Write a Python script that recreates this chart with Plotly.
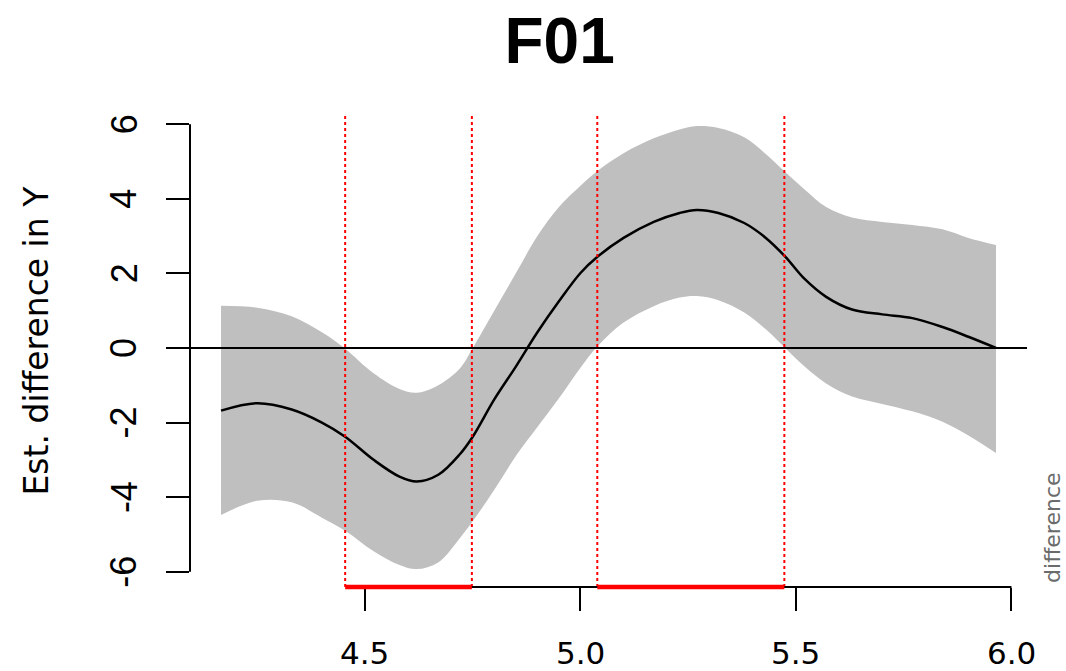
import plotly.graph_objects as go

# ---- data ----
x_vals = [4.166, 4.25, 4.33, 4.40, 4.454, 4.52, 4.58, 4.62, 4.67, 4.72, 4.75, 4.80, 4.85,
          4.90, 4.95, 5.00, 5.04, 5.10, 5.17, 5.23, 5.27, 5.32, 5.38, 5.43, 5.475, 5.52,
          5.57, 5.63, 5.70, 5.77, 5.84, 5.90, 5.964]
est_diff = [-1.68, -1.48, -1.65, -2.0, -2.38, -3.0, -3.45, -3.58, -3.40, -2.85, -2.38, -1.38,
            -0.5, 0.42, 1.25, 2.01, 2.45, 2.95, 3.38, 3.62, 3.70, 3.62, 3.35, 2.95, 2.45,
            1.85, 1.37, 1.03, 0.90, 0.80, 0.56, 0.30, 0.0]
ci_upper = [1.13, 1.08, 0.85, 0.42, -0.02, -0.68, -1.1, -1.2, -1.0, -0.55, 0.0, 1.0, 2.0,
            3.0, 3.78, 4.35, 4.75, 5.22, 5.62, 5.86, 5.95, 5.9, 5.65, 5.2, 4.72, 4.25, 3.78,
            3.5, 3.38, 3.3, 3.18, 2.95, 2.76]
ci_lower = [-4.48, -4.1, -4.14, -4.55, -4.9, -5.45, -5.82, -5.93, -5.75, -5.1, -4.65, -3.8,
            -2.9, -2.12, -1.35, -0.53, 0.05, 0.68, 1.12, 1.35, 1.39, 1.28, 0.95, 0.5, 0.0,
            -0.5, -0.95, -1.3, -1.5, -1.7, -1.98, -2.35, -2.82]
sig_starts = [4.454, 5.039]
sig_ends = [4.748, 5.473]
x_ticks = [4.5, 5.0, 5.5, 6.0]
x_tick_labels = ["4.5", "5.0", "5.5", "6.0"]
y_ticks = [-6, -4, -2, 0, 2, 4, 6]
y_tick_labels = ["-6", "-4", "-2", "0", "2", "4", "6"]
title_text = "F01"
y_title = "Est. difference in Y"
side_text = "difference"

X_RANGE = [4.094, 6.036]
Y_RANGE = [-6.41, 6.30]
FONT = "DejaVu Sans, Liberation Sans, Arial, sans-serif"
FONT_ARIAL = "Liberation Sans, Arial, Helvetica, sans-serif"
SMOOTH = 1.0

fig = go.Figure()
fig.add_trace(go.Scatter(x=x_vals, y=ci_lower, mode="lines",
                         line=dict(width=0, shape="spline", smoothing=SMOOTH),
                         hoverinfo="skip", showlegend=False))
fig.add_trace(go.Scatter(x=x_vals, y=ci_upper, mode="lines",
                         line=dict(width=0, shape="spline", smoothing=SMOOTH),
                         fill="tonexty", fillcolor="#bfbfbf", hoverinfo="skip", showlegend=False))
fig.add_trace(go.Scatter(x=x_vals, y=est_diff, mode="lines",
                         line=dict(color="black", width=2.5, shape="spline", smoothing=SMOOTH),
                         showlegend=False))

shapes = []
# zero line across the whole plot region
shapes.append(dict(type="line", xref="paper", x0=0, x1=1, yref="y", y0=0, y1=0,
                   line=dict(color="black", width=2), layer="above"))
# significance boundaries
for xv in sig_starts + sig_ends:
    shapes.append(dict(type="line", xref="x", x0=xv, x1=xv, yref="paper", y0=0, y1=1,
                       line=dict(color="red", width=2, dash="dot"), layer="above"))
# x axis line (first to last tick)
shapes.append(dict(type="line", xref="x", x0=x_ticks[0], x1=x_ticks[-1], yref="paper", y0=0, y1=0,
                   line=dict(color="black", width=2), layer="above"))
# y axis line (first to last tick)
shapes.append(dict(type="line", xref="paper", x0=0, x1=0, yref="y", y0=y_ticks[0], y1=y_ticks[-1],
                   line=dict(color="black", width=2), layer="above"))
# significant regions
for s, e in zip(sig_starts, sig_ends):
    shapes.append(dict(type="line", xref="x", x0=s, x1=e, yref="paper", y0=0, y1=0,
                       line=dict(color="red", width=4.5), layer="above"))

annotations = []
for v, t in zip(x_ticks, x_tick_labels):
    annotations.append(dict(x=v, xref="x", y=0, yref="paper", text=t, showarrow=False,
                            xanchor="center", yanchor="middle", yshift=-66,
                            font=dict(family=FONT, size=31, color="black")))
for v, t in zip(y_ticks, y_tick_labels):
    annotations.append(dict(x=0, xref="paper", y=v, yref="y", text=t, showarrow=False,
                            xanchor="center", yanchor="middle", xshift=-66, textangle=-90,
                            font=dict(family=FONT_ARIAL, size=36, color="black")))
annotations.append(dict(x=0, xref="paper", y=0.52, yref="paper", text=y_title, showarrow=False,
                        xanchor="center", yanchor="middle", xshift=-153, textangle=-90,
                        font=dict(family=FONT, size=33, color="black")))
annotations.append(dict(x=1.031, xref="paper", y=0.1245, yref="paper", text=side_text,
                        showarrow=False, xanchor="center", yanchor="middle", textangle=-90,
                        font=dict(family=FONT, size=22, color="#6b6b6b")))

fig.update_layout(
    width=1066, height=671,
    margin=dict(l=190, r=39, t=113, b=84),
    paper_bgcolor="white", plot_bgcolor="white",
    title=dict(text="<b>" + title_text + "</b>", x=0.525, xanchor="center", y=0.939, yanchor="middle",
               font=dict(family=FONT_ARIAL, size=64, color="black")),
    xaxis=dict(range=X_RANGE, showgrid=False, zeroline=False, showline=False,
               tickvals=x_ticks, ticks="outside", ticklen=23, tickwidth=2, tickcolor="black",
               showticklabels=False, fixedrange=True),
    yaxis=dict(range=Y_RANGE, showgrid=False, zeroline=False, showline=False,
               tickvals=y_ticks, ticks="outside", ticklen=23, tickwidth=2, tickcolor="black",
               showticklabels=False, fixedrange=True),
    shapes=shapes,
    annotations=annotations,
    showlegend=False,
)

# remove the default page margin so the 1066x671 figure fills the window exactly
fig.write_html("out.html",
               config={"displayModeBar": False},
               post_script="document.body.style.margin='0';document.body.style.overflow='hidden';")
